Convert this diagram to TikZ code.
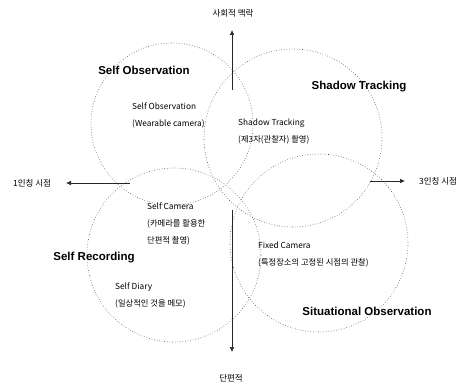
\documentclass[tikz,border=0pt]{standalone}
\usepackage{fontspec}
\setmainfont{Liberation Sans}
\newfontfamily\kr{Noto Sans CJK KR}
\usepackage{tikz}
\usetikzlibrary{arrows.meta, positioning}
\tikzstyle{axis}=[-{Latex[length=5pt,width=4.5pt]}, semithick, color=black!85]
\tikzstyle{zone}=[draw, circle, dotted, semithick, color=black!70, inner sep=0pt]
\tikzstyle{title}=[font=\bfseries\fontsize{11.5}{13}\selectfont]
\tikzstyle{note}=[font=\kr\fontsize{8.3}{17}\selectfont, align=left, inner sep=0pt, anchor=west]
\tikzstyle{end}=[font=\kr\fontsize{8.5}{10}\selectfont, inner sep=1pt]

\begin{document}
\begin{tikzpicture}[x=1pt, y=-1pt]
  \useasboundingbox (0,0) rectangle (462,385);
  % four zones
  \node[zone, minimum size=162pt] (obs) at (172,124) {};
  \node[zone, minimum size=178pt] (shd) at (293,138) {};
  \node[zone, minimum size=174pt] (rec) at (174,255) {};
  \node[zone, minimum size=178pt] (sit) at (319,243) {};
  % axes
  \node[end] (up) at (233,13) {사회적 맥락};
  \node[end] (down) at (231,378) {단편적};
  \node[end] (left) at (32,183) {1인칭 시점};
  \node[end] (right) at (438,181) {3인칭 시점};
  \coordinate (ua) at (232,90);
  \coordinate (da) at (232,210);
  \coordinate (la) at (130,183);
  \coordinate (ra) at (370,181);
  \draw[axis] (ua) -- (232,30);
  \draw[axis] (da) -- (232,352);
  \draw[axis] (la) -- (66,183);
  \draw[axis] (ra) -- (405,181);
  % titles
  \node[title] (tobs) at (144,70) {Self Observation};
  \node[title] (tshd) at (359,87) {Shadow Tracking};
  \node[title] (trec) at (94,258) {Self Recording};
  \node[title] (tsit) at (367,311) {Situational Observation};
  % methods
  \node[note] (wear) at (132,115) {Self Observation\\(Wearable camera)};
  \node[note] (track) at (238,132) {Shadow Tracking\\(제3자(관찰자) 촬영)};
  \node[note] (cam) at (147,224) {Self Camera\\(카메라를 활용한\\단편적 촬영)};
  \node[note] (fix) at (258,255) {Fixed Camera\\(특정장소의 고정된 시점의 관찰)};
  \node[note] (diary) at (115,295) {Self Diary\\(일상적인 것을 메모)};
\end{tikzpicture}
\end{document}
